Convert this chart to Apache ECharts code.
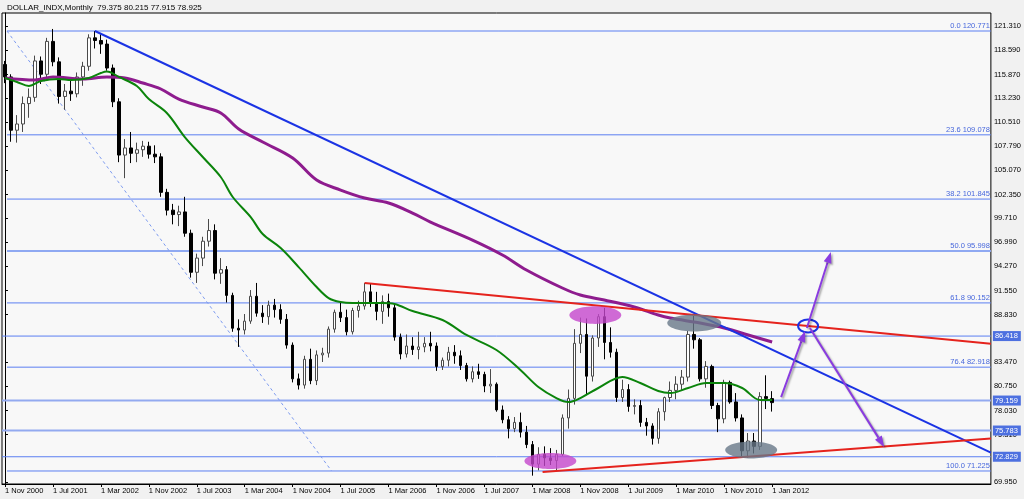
<!DOCTYPE html>
<html><head><meta charset="utf-8">
<script src="https://cdn.jsdelivr.net/npm/echarts@6.0.0/dist/echarts.min.js"></script>
<style>html,body{margin:0;padding:0;background:#f1f1f1;}#c{width:1024px;height:499px;}</style>
</head><body><div id="c"></div>
<script>
const chartTitle = 'DOLLAR_INDX,Monthly  79.375 80.215 77.915 78.925';
const xTickLabels = ['1 Nov 2000','1 Jul 2001','1 Mar 2002','1 Nov 2002','1 Jul 2003','1 Mar 2004','1 Nov 2004','1 Jul 2005','1 Mar 2006','1 Nov 2006','1 Jul 2007','1 Mar 2008','1 Nov 2008','1 Jul 2009','1 Mar 2010','1 Nov 2010','1 Jan 2012'];
const yTickValues = [121.31,118.59,115.87,113.23,110.51,107.79,105.07,102.35,99.71,96.99,94.27,91.55,88.83,83.47,80.75,78.03,75.31,69.95];

const open = [117.0,115.6,109.6,110.3,112.6,113.3,117.4,115.9,119.6,117.3,113.4,114.0,113.7,115.6,116.8,120.0,119.7,119.3,116.6,112.8,
106.8,107.6,107.0,107.4,107.8,106.9,106.6,102.6,100.6,100.1,100.4,98.0,93.6,95.2,97.1,98.3,93.5,93.9,91.0,87.3,
87.1,88.1,90.9,89.0,88.6,89.9,89.4,88.3,85.4,81.6,80.9,83.8,81.4,84.3,84.5,87.2,89.1,88.5,86.9,89.3,
89.8,91.4,90.2,89.2,90.3,89.6,86.3,84.4,85.3,84.9,85.2,85.6,85.3,83.0,83.7,84.6,84.2,83.1,81.6,82.4,
82.1,80.8,81.0,78.1,77.0,76.0,76.7,75.6,74.2,72.0,73.1,72.7,72.4,73.1,77.2,79.4,85.6,86.6,81.9,86.2,
88.6,85.7,84.6,79.5,80.4,78.5,78.6,76.7,76.3,74.9,77.9,79.5,80.3,81.0,81.8,86.6,86.0,81.6,83.0,78.6,
77.1,81.2,79.0,77.2,73.5,74.6,74.0,79.6,79.375];
const high = [117.4,115.9,111.3,113.4,114.3,118.0,117.9,120.0,121.0,117.8,114.8,115.2,116.1,117.3,120.4,120.77,120.4,119.8,117.0,113.2,
108.6,109.4,108.2,108.4,108.3,107.9,107.0,103.0,101.3,101.1,102.1,98.4,95.7,97.6,99.6,99.0,95.2,94.3,91.3,88.3,
88.9,91.6,92.4,89.9,90.4,90.6,90.0,88.9,85.7,82.2,84.2,85.0,84.8,85.1,87.5,89.4,90.3,89.4,89.6,90.4,
92.4,92.3,91.4,91.0,91.2,90.1,86.7,86.6,86.3,86.9,86.3,86.9,85.7,84.0,85.2,85.4,84.8,83.4,83.0,83.3,
82.4,82.7,81.2,78.6,77.4,77.3,77.8,76.3,74.6,73.9,74.0,73.8,73.6,77.6,80.4,87.2,88.5,88.4,86.5,88.9,
89.6,87.4,85.0,81.5,81.0,79.3,79.2,77.2,76.6,78.3,79.6,81.3,81.9,82.6,87.0,88.7,86.2,83.6,83.2,78.9,
81.5,81.4,80.0,77.6,75.5,75.5,80.1,82.0,80.215];
const low = [114.9,108.3,108.2,109.4,111.0,112.8,114.8,115.3,116.8,112.6,111.9,112.9,113.3,114.6,116.3,118.8,118.2,116.3,112.2,106.0,
104.2,105.9,106.0,106.6,106.4,105.9,102.1,100.0,99.0,98.8,97.6,93.0,92.4,94.3,96.5,92.8,92.3,90.2,86.9,85.2,
86.6,87.8,88.6,87.9,87.7,88.5,87.8,85.0,81.2,80.4,80.5,81.0,80.9,83.5,84.0,86.8,88.0,86.5,86.6,88.5,
89.4,89.7,88.2,87.8,88.6,85.9,83.8,84.0,84.3,83.8,84.6,84.7,82.5,82.6,83.0,83.3,82.6,81.3,81.2,81.6,
80.1,80.0,77.9,76.6,74.9,75.6,75.0,73.8,70.7,71.3,71.8,71.9,71.3,72.9,76.0,78.7,84.5,79.8,81.3,85.2,
83.8,84.0,79.0,79.0,77.9,77.6,76.2,75.2,74.2,74.3,76.9,79.0,79.3,80.3,81.3,85.0,81.3,80.6,78.2,75.6,
76.6,78.8,76.8,72.9,72.7,73.2,73.6,78.2,77.915];
const close = [115.6,109.6,110.3,112.6,113.3,117.4,115.9,119.6,117.3,113.4,114.0,113.7,115.6,116.8,120.0,119.7,119.3,116.6,112.8,106.8,
107.6,107.0,107.4,107.8,106.9,106.6,102.6,100.6,100.1,100.4,98.0,93.6,95.2,97.1,98.3,93.5,93.9,91.0,87.3,87.1,
88.1,90.9,89.0,88.6,89.9,89.4,88.3,85.4,81.6,80.9,83.8,81.4,84.3,84.5,87.2,89.1,88.5,86.9,89.3,89.8,
91.4,90.2,89.2,90.3,89.6,86.3,84.4,85.3,84.9,85.2,85.6,85.3,83.0,83.7,84.6,84.2,83.1,81.6,82.4,82.1,
80.8,81.0,78.1,77.0,76.0,76.7,75.6,74.2,72.0,73.1,72.7,72.4,73.1,77.2,79.4,85.6,86.6,81.9,86.2,88.6,
85.7,84.6,79.5,80.4,78.5,78.6,76.7,76.3,74.9,77.9,79.5,80.3,81.0,81.8,86.6,86.0,81.6,83.0,78.6,77.1,
81.2,79.0,77.2,73.5,74.6,74.0,79.6,79.4,78.925];

// moving averages: [bar index, value]
const maFast = [[0,115.48],[2,115.03],[4,114.58],[6,115.14],[9,115.37],[11,115.25],[14,115.48],[16,116.04],[17,116.21],[19,115.6],
[22,114.58],[24,113.11],[27,111.54],[30,108.83],[33,106.58],[36,104.33],[38,102.08],[41,99.82],[43,97.91],[46,96.33],
[49,94.19],[52,91.94],[54,90.70],[56,90.25],[58,90.14],[63,90.14],[65,90.03],[68,89.24],[73,88.23],[77,86.54],
[82,84.85],[86,82.6],[89,80.68],[92,79.44],[94,78.99],[96,79.44],[99,80.57],[103,81.81],[106,81.13],[109,80.23],
[111,80.0],[114,80.57],[117,81.13],[120,81.13],[123,80.57],[126,79.22],[128,79.22]];
const maSlow = [[0,115.48],[5,115.25],[8,115.59],[13,115.37],[17,115.59],[20,115.48],[23,114.91],[26,114.24],[29,113.11],[33,112.21],
[36,111.54],[39,109.73],[43,108.27],[48,106.47],[52,103.99],[56,102.86],[60,101.96],[64,101.40],[68,100.27],[71,99.26],
[78,97.23],[83,95.55],[87,93.86],[93,91.83],[96,91.04],[100,90.48],[105,89.69],[109,88.79],[111,88.45],[116,87.89],
[120,87.33],[124,86.54],[128,85.75]];

const fiboLevels = [120.771,109.078,101.845,95.998,90.152,82.918,71.225];
const fiboLabels = ['0.0 120.771','23.6 109.078','38.2 101.845','50.0 95.998','61.8 90.152','76.4 82.918','100.0 71.225'];
const priceLines = [86.418,79.159,75.783,72.829];
const fiboDiagonal = [[0.33,120.771],[54.5,71.225]];
const blueTrend = [[15,120.771],[164.5,73.3]];
const redUpper = [[60,92.4],[164.5,85.55]];
const redLower = [[89.7,71.11],[164.5,74.88]];
// ellipses: [centre index, centre value, half width (bars), half height (price), kind]
const ellipses = [[91.0,72.35,4.33,0.9,0],[98.5,88.79,4.33,1.0,0],[115.0,87.89,4.5,0.95,1],[124.5,73.59,4.33,0.95,1],[134.0,87.55,1.67,0.73,2]];
// arrows: [from index, from value, to index, to value]
const arrows = [[129.5,79.55,133.5,86.99],[133.8,87.33,137.8,95.88],[134.3,87.33,146.7,73.93]];

const NSLOTS = 165;
const categories = Array.from({length: NSLOTS}, (_, i) => 'b' + i);
const candles = open.map((o, i) => [o, close[i], low[i], high[i]]);
const FONT = 'Liberation Sans';
const LEVEL_BLUE = '#5b7ff2';

const chart = echarts.init(document.getElementById('c'), null, {renderer: 'canvas'});

function tickOk(i) { return i % 8 === 0 && i / 8 < xTickLabels.length; }

function lineSeries(name, data, color, width, z, extra) {
  return Object.assign({
    name, type: 'line', xAxisIndex: 1, yAxisIndex: 0, data, showSymbol: false, symbol: 'none',
    lineStyle: {color, width, type: 'solid', opacity: 1}, z, silent: true, animation: false
  }, extra || {});
}

// level lines as their own line series
const levelSeries = [];
fiboLevels.forEach(v => {
  const thick = (v === 95.998);
  levelSeries.push(lineSeries('fibo ' + v, [[fiboDiagonal[0][0], v], [NSLOTS - 0.5, v]], thick ? '#8fa9f2' : LEVEL_BLUE, thick ? 2 : 1, 1));
});
priceLines.forEach(v => {
  const thick = (v === 79.159 || v === 75.783);
  levelSeries.push(lineSeries('level ' + v, [[-0.5, v], [NSLOTS - 0.5, v]], thick ? '#93aaf0' : LEVEL_BLUE, thick ? 2 : 1, 1));
});

// labels carried by transparent mark lines
const labelMarks = [];
fiboLevels.forEach((v, k) => {
  labelMarks.push([
    {coord: [fiboDiagonal[0][0], v],
     label: {show: true, position: 'insideEndTop', formatter: fiboLabels[k], color: '#4767dc', fontSize: 7.5, fontFamily: FONT, distance: 1}},
    {coord: [NSLOTS - 0.5, v]}
  ]);
});
priceLines.forEach(v => {
  labelMarks.push([
    {coord: [-0.5, v],
     label: {show: true, position: 'end', distance: 2, formatter: v.toFixed(3), color: '#ffffff', backgroundColor: '#4d70e0',
       padding: [1, 3, 1, 2], fontSize: 7.5, fontFamily: FONT}},
    {coord: [NSLOTS - 0.5, v]}
  ]);
});

const option = {
  animation: false,
  backgroundColor: '#f1f1f1',
  grid: {left: 2, right: 32, top: 13, bottom: 15, show: true, borderColor: '#000', borderWidth: 1, backgroundColor: '#f8f8f8'},
  xAxis: [
    {type: 'category', data: categories, boundaryGap: true,
     axisLine: {show: true, lineStyle: {color: '#000'}},
     axisTick: {show: true, alignWithLabel: true, interval: (i) => tickOk(i), length: 3, lineStyle: {color: '#000'}},
     axisLabel: {show: true, interval: (i) => tickOk(i), formatter: (v, i) => tickOk(i) ? xTickLabels[i / 8] : '',
       align: 'left', margin: 3, fontSize: 7.5, fontFamily: FONT, color: '#000'},
     splitLine: {show: false}},
    {type: 'value', min: -0.5, max: NSLOTS - 0.5, show: false}
  ],
  yAxis: [{type: 'value', position: 'right', min: 69.761, max: 122.798, scale: true,
    axisLine: {show: true, lineStyle: {color: '#000'}},
    axisTick: {show: true, length: 3, customValues: yTickValues, lineStyle: {color: '#000'}},
    axisLabel: {show: true, customValues: yTickValues, formatter: (v) => Number(v).toFixed(3), margin: 3,
      fontSize: 7.5, fontFamily: FONT, color: '#000'},
    splitLine: {show: false}}],
  graphic: [{type: 'text', left: 7, top: 4, style: {text: chartTitle, fontSize: 8, fontFamily: FONT, fill: '#000'}}],
  series: [
    ...levelSeries,
    lineSeries('fibo diagonal', fiboDiagonal, '#7d9bf0', 1, 1, {
      lineStyle: {color: '#7d9bf0', width: 1, type: [3, 3]},
      markLine: {silent: true, symbol: ['none', 'none'], animation: false, z: 8,
        lineStyle: {color: 'rgba(0,0,0,0)', width: 1, type: 'solid'}, data: labelMarks}
    }),
    {name: 'DOLLAR_INDX', type: 'candlestick', xAxisIndex: 0, yAxisIndex: 0, data: candles, barWidth: 3, z: 3,
     itemStyle: {color: '#ffffff', color0: '#000000', borderColor: '#4a4a4a', borderColor0: '#000000', borderWidth: 1}},
    lineSeries('ma slow', maSlow, '#8e1c8e', 3, 4, {smooth: 0.35}),
    lineSeries('ma fast', maFast, '#0b840b', 2, 4, {smooth: 0.35}),
    lineSeries('blue trend', blueTrend, '#1b33e4', 2, 5),
    lineSeries('red upper', redUpper, '#e5231d', 2, 5),
    lineSeries('red lower', redLower, '#e5231d', 2, 5),
    {name: 'ellipses', type: 'custom', xAxisIndex: 1, yAxisIndex: 0, data: ellipses, z: 6, silent: true,
     encode: {x: 0, y: 1},
     renderItem: function (params, api) {
       const c = api.coord([api.value(0), api.value(1)]);
       const e = api.coord([api.value(0) + api.value(2), api.value(1) + api.value(3)]);
       const kind = api.value(4);
       const style = kind === 0 ? {fill: 'rgba(196,70,204,0.8)', stroke: null}
         : kind === 1 ? {fill: 'rgba(104,120,136,0.8)', stroke: null}
         : {fill: null, stroke: '#1b33e4', lineWidth: 2};
       return {type: 'ellipse', shape: {cx: c[0], cy: c[1], rx: Math.abs(e[0] - c[0]), ry: Math.abs(e[1] - c[1])}, style};
     }},
    {name: 'arrows', type: 'custom', xAxisIndex: 1, yAxisIndex: 0, data: arrows, z: 7, silent: true,
     encode: {x: [0, 2], y: [1, 3]},
     renderItem: function (params, api) {
       const p1 = api.coord([api.value(0), api.value(1)]);
       const p2 = api.coord([api.value(2), api.value(3)]);
       const ang = Math.atan2(p2[1] - p1[1], p2[0] - p1[0]);
       const L = 11, W = 4;
       const bx = p2[0] - L * Math.cos(ang), by = p2[1] - L * Math.sin(ang);
       const nx = -Math.sin(ang) * W, ny = Math.cos(ang) * W;
       const sh = {shadowBlur: 2, shadowColor: 'rgba(0,0,0,0.35)', shadowOffsetX: 1.5, shadowOffsetY: 1.5};
       return {type: 'group', children: [
         {type: 'line', shape: {x1: p1[0], y1: p1[1], x2: bx, y2: by}, style: Object.assign({stroke: '#8a3be0', lineWidth: 2}, sh)},
         {type: 'polygon', shape: {points: [[p2[0], p2[1]], [bx + nx, by + ny], [bx - nx, by - ny]]}, style: Object.assign({fill: '#8a3be0'}, sh)}
       ]};
     }}
  ]
};
chart.setOption(option);
</script>
</body></html>
